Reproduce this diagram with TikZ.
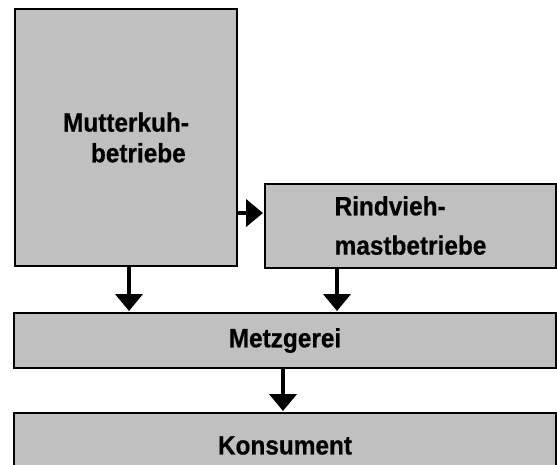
\documentclass[tikz,border=0pt]{standalone}
\usepackage{fontspec}
\setmainfont{Liberation Sans}[FakeStretch=0.92, BoldFeatures={FakeBold=0.6}]
\usetikzlibrary{arrows.meta}
\definecolor{boxgray}{HTML}{C0C0C0}
\tikzset{
  stage/.style={draw=black, line width=2pt, fill=boxgray, inner sep=0pt,
    font=\bfseries\fontsize{26.5}{30.6}\selectfont},
  flow/.style={line width=4.8pt,
    -{Triangle[length=17pt,width=27pt]}, shorten >=1pt}
}
\begin{document}
\begin{tikzpicture}[x=1pt,y=-1pt]
  \useasboundingbox (0,0) rectangle (557,464);
  \clip (0,0) rectangle (557,464);
  % stages of the supply chain
  \node[stage, minimum width=222pt, minimum height=257pt, align=center]
    (mk) at (126,137.5) {Mutterkuh-\\\hspace*{24.7pt}betriebe};
  \node[stage, minimum width=291pt, minimum height=84pt, align=left,
    font=\bfseries\fontsize{26.5}{39.3}\selectfont]
    (rv) at (410.5,225.5) {Rindvieh-\\mastbetriebe};
  \node[stage, minimum width=542pt, minimum height=55pt]
    (mz) at (285,340.5) {Metzgerei};
  \node[stage, minimum width=542pt, minimum height=65pt]
    (ko) at (285,445.5) {Konsument};
  % flows between the stages
  \draw[flow] ([yshift=-75.5pt]mk.east) coordinate (h) -- (h -| rv.west);
  \draw[flow] ([xshift=3pt]mk.south) coordinate (a) -- (a |- mz.north);
  \draw[flow] ([xshift=-73.5pt]rv.south) coordinate (b) -- (b |- mz.north);
  \draw[flow] ([xshift=-2pt]mz.south) coordinate (c) -- (c |- ko.north);
\end{tikzpicture}
\end{document}
